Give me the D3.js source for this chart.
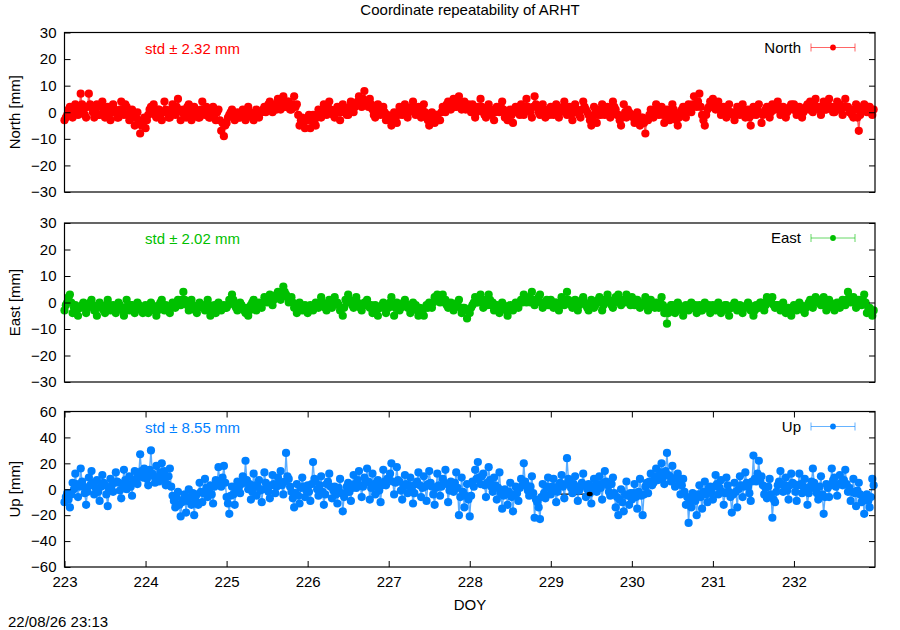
<!DOCTYPE html>
<html>
<head>
<meta charset="utf-8">
<script src="https://cdn.jsdelivr.net/npm/d3@7"></script>
<style>
  body { margin: 0; background: #fff; }
  svg text { font-family: 'Liberation Sans', Arial, sans-serif; font-size: 15px; fill: #000; }
</style>
</head>
<body>
<svg id="chart" width="900" height="630"></svg>
<script>
'use strict'

// one row per day, 60 epochs a day (24 min apart), values in mm
let firstDoy = 223
let perDay = 60
let doyTicks = [223, 224, 225, 226, 227, 228, 229, 230, 231, 232]

let north = [
  [-3, -2, -1, 1, 2, 0, -2, 1, 3, 0, -1, 2, 7, 3, 1, -1, -2, 2, 7, 3, 2, 0, -2, 1, 3, -1, -1, 2, 4, 0, -2, 1, 2, -1, -3, 0, 3, 1, 0, -2, -2, 1, 4, 0, -1, 3, 2, -1, -3, 0, 1, -2, -5, -2, 0, -3, -8, -5, -4, -2],
  [-6, -3, -1, 1, 2, 0, 3, -1, -2, 1, 1, -1, -3, 0, 4, 1, 0, -2, -2, 1, 3, 0, -1, 2, 5, 1, -3, 0, 1, -1, -2, 2, 3, 0, -3, -1, 2, 1, 0, -2, -2, 1, 4, 0, -1, 2, 1, -2, -2, 0, 2, -1, -3, 0, 1, -3, -7, -4, -9, -5],
  [-4, -2, -1, 0, 1, -1, -3, -1, 0, -2, -2, 0, 1, -1, -3, -1, 2, 0, -1, -2, -3, 0, 1, -1, -2, 0, 0, 1, 2, 0, 1, 3, 4, 2, 0, 2, 3, 1, 5, 3, 1, 4, 6, 2, 2, 4, 4, 1, 1, 3, 6, 2, 3, -1, -5, -3, -2, -4, -6, -3],
  [-3, -1, -6, -3, -1, -4, -5, -2, 1, -1, -2, 0, 3, 1, -1, 2, 4, 1, 0, -1, -2, 1, 2, 0, -3, 0, 3, 1, 1, -1, -1, 2, 4, 1, 0, 2, 3, 4, 6, 3, 2, 5, 8, 4, 4, 2, 5, 3, 1, -1, -2, 1, 3, 0, -1, 1, 2, 0, -3, -1],
  [-2, -3, -5, -2, 0, -3, -4, -1, 2, 0, -1, 1, 3, 0, -2, 0, 1, 2, 4, 1, -1, 0, 2, -1, -2, 1, 3, 0, -2, -3, -5, -2, 0, -2, -4, -1, -1, -3, -3, 0, 2, 1, 0, 3, 4, 2, 1, 3, 5, 2, 2, 4, 6, 3, 1, 2, 4, 1, 2, 3],
  [1, 0, 3, 1, -2, 0, 2, 1, 5, 2, 0, -1, -2, 1, 3, 0, -1, 1, -3, 0, 2, 1, 0, 2, 4, 1, -2, 0, -3, -1, 1, -1, -4, 0, 2, 1, 0, -1, 3, 1, -1, 2, 5, 2, 1, 0, -2, 2, 6, 3, 2, 0, -1, 1, 3, 0, -2, 0, 1, -1],
  [2, 0, -1, 1, 3, 0, -2, 0, 1, 2, 4, 1, -1, 0, 2, -1, -3, 0, 3, 1, 0, -1, -2, 1, 4, 2, 1, 0, -1, -3, -5, -2, 2, 0, -4, -1, 1, -1, 3, 1, -1, 0, 2, 1, -2, 0, 4, 2, 1, -1, -1, -3, -5, -2, 3, 0, -2, 1, 0, -1],
  [-1, -2, -4, -1, 0, -3, -5, -2, -2, -4, -8, -3, -3, -1, 1, -1, -2, 0, 3, 1, -1, 0, 2, -1, -4, -1, 1, -1, -3, 0, 3, 1, -1, -3, -5, -2, 0, 1, 2, 0, -2, 1, 3, 1, 0, 3, 6, 3, 2, 4, 7, 2, -1, -3, -5, -1, 1, 2, 4, 2],
  [5, 2, 1, 3, 4, 1, -1, 1, 2, 0, -2, 1, 3, 0, 0, -1, -3, 0, 2, 1, -1, 0, 3, 1, -2, 0, 1, -2, -5, -1, 2, 0, -1, 1, 3, 0, -4, -1, 0, 1, 2, 0, -2, 0, 3, 1, 1, 2, 4, 1, -1, 0, 2, 1, -2, 0, 1, 2, 3, 1],
  [3, 1, -1, 0, 2, 1, -2, 0, 1, 2, 3, 1, 4, 2, 0, 3, 5, 2, 2, 1, -1, 2, 4, 1, 1, 3, 5, 2, 2, 0, 0, 2, 4, 1, 3, 1, -1, 2, 5, 2, 2, 0, 1, -1, -2, 1, 3, -2, -7, -1, 1, 2, 3, 1, 0, 2, 2, 0, -1, 1]
]

let east = [
  [-3, -1, 0, 2, 3, 0, -4, -2, -1, -3, -5, -2, -2, -1, 0, -2, -4, -2, -1, 0, 1, -1, -3, -2, -5, -2, 0, -1, -2, -3, -4, -1, 1, -1, -3, -2, -1, -2, -4, -2, 0, -1, -2, -3, -5, -2, 1, -1, -3, -1, -1, -2, -4, -2, 0, -1, -2, -3, -4, -2],
  [-1, -2, -4, -2, 0, -1, -3, -2, -5, -3, -1, 0, 1, -1, -3, -1, -2, -3, -4, -2, 0, -1, -2, -1, 1, 0, -1, 1, 4, 1, 0, -1, -3, -1, 1, -1, -2, -3, -4, -2, 0, -1, -1, -2, -3, -1, 1, -1, -5, -3, -2, -1, -4, -2, 0, -1, -3, -2, -1, -2],
  [-2, -1, 1, 0, 3, 1, -1, -2, -3, -1, 0, -1, -2, -3, -4, -2, -5, -3, -1, 0, 1, -1, -3, -1, 0, -1, -2, 0, 2, 1, 0, 1, 3, 1, -1, 1, 2, 3, 4, 2, 1, 3, 6, 4, 3, 2, 0, 1, 2, 0, -2, -1, -4, -2, 0, -1, -3, -2, -1, -2],
  [-4, -2, -1, -2, -3, -1, 0, -1, -2, 0, 2, 0, -1, -2, -3, -1, 1, -1, -2, 0, 2, 0, 0, -1, -3, -2, -5, -2, 1, 0, 3, 1, 0, -1, -2, 0, 2, 0, -1, -2, -3, -1, 0, -1, 1, -1, -2, -1, -4, -2, -1, -3, -5, -2, -2, -1, 0, -2, -4, -2],
  [-2, 0, 2, -1, -5, -2, 0, -1, -3, -2, -1, 0, 1, -1, -2, -1, -4, -2, 0, -2, -1, -3, -5, -2, -3, -4, -5, -2, -1, -2, 0, -1, -2, 0, 2, 1, 3, 1, 0, 1, 3, 0, 1, -1, -2, -1, 0, -1, -3, -1, -1, 0, 1, -2, -4, -2, -2, -3, -6, -3],
  [-4, -2, -1, 0, 2, 0, 0, 1, 3, 1, -2, 0, 1, -1, 3, 1, -1, 0, -3, -1, -1, -2, -4, -2, 0, -1, -2, -3, -5, -2, -1, -2, -3, -1, 0, -1, -2, 0, 1, 0, 3, 1, 0, 1, 2, 0, 4, 1, -1, 0, 1, 2, 3, 0, -2, -1, 0, 1, -1, 0],
  [1, -1, -2, 0, 0, -1, -3, 0, 2, 0, -1, 1, 4, 1, 0, -1, -2, 0, 1, -1, -3, -1, 0, 1, 2, 0, -1, -2, -3, -1, 1, 0, -2, -1, 0, 1, 2, 0, -3, -1, 1, 0, 3, 1, 0, -1, -2, 0, 2, 1, 3, 0, -1, 1, 1, 0, 3, 1, 0, -1],
  [2, 0, -1, 1, 1, -1, -2, 0, 0, -1, 2, 0, -3, -1, 1, 0, -1, -2, 0, -1, -2, 0, 2, -1, -4, -2, -8, -4, -3, -1, -1, -2, -4, -2, 0, -1, -2, -3, -5, -2, -1, -2, -3, -1, 0, -2, -2, -1, -4, -2, -1, -3, -3, -1, 0, -2, -2, -1, -4, -2],
  [-1, -2, -3, -1, 0, -2, -4, -2, -2, -1, -1, -3, -5, -2, -2, -1, 0, -1, -3, -2, -1, -2, -4, -2, -2, -1, 0, -1, -3, -2, -5, -3, -1, -2, -2, 0, 0, -1, -3, -1, 2, 0, 0, 1, 2, -1, -2, -1, -1, -2, -3, -1, 0, -2, -4, -2, -2, -3, -5, -2],
  [-1, -2, -3, -1, 0, -1, -2, -3, -4, -2, -1, 0, 1, -1, -2, 0, 2, 0, 0, 1, -1, 0, 2, -1, -3, -1, 1, 0, -1, -2, -3, -1, 0, -1, -2, 0, 1, 0, -1, 1, 4, 2, 0, 1, 2, 0, -2, -1, 1, 0, -1, 1, 3, 0, -4, -2, -2, -3, -5, -3]
]

let up = [
  [-10, -6, -3, -8, -14, -4, 5, 0, 12, 4, -6, 2, 16, 6, 2, -3, -12, -2, 9, 3, 14, 5, -4, 1, 7, -2, -9, 2, 11, 5, 3, -4, -13, -1, 8, 3, -2, 5, 13, 6, 5, -1, -7, 4, 15, 7, 0, 4, 10, 2, -5, 6, 14, 8, 4, 12, 27, 14, 9, 16],
  [12, 8, 3, 15, 30, 12, 10, 5, 18, 9, 6, 13, 20, 8, 14, 3, 4, 10, 16, 2, -5, -9, -14, -6, -2, -12, -21, -10, -8, -4, -18, -9, 0, -6, -12, -3, -20, -9, -4, -12, 5, -2, -10, -3, 8, 1, -6, -1, 3, -4, -11, 2, 7, 4, 17, 6, 2, 9, 18, 5],
  [-6, -11, -19, -5, 2, -4, -12, -2, 6, 1, -3, 4, 10, 5, 22, 7, 0, 4, -8, -2, 12, 3, -5, 2, 7, -1, -10, 0, 13, 5, 2, -2, -7, 3, 11, 4, -3, 2, 9, 5, 14, 3, -4, 6, 28, 10, 8, 2, -2, -7, -14, -3, 4, -5, -11, 1, 9, 2, -6, -1],
  [3, -2, -9, 4, 21, 8, 6, 0, -5, 3, 10, -2, -12, -4, 4, 6, 12, 2, -7, -1, 2, -4, -11, 1, 8, -3, -17, -6, -3, 2, 5, -2, -9, 1, 11, 4, 1, 7, 14, 3, -6, 2, 9, 5, 16, 6, -8, 1, 12, 4, -4, 2, 7, -1, -10, 3, 15, 6, 3, 8],
  [8, 12, 20, 6, -4, 5, 17, 7, 6, -1, -8, 2, 11, 4, -3, 3, 9, 0, -11, -3, 4, 6, 13, 3, -6, 1, 10, 2, -9, 4, 14, 5, 2, -4, -12, 1, 12, 3, -5, 2, 8, 5, 15, 4, -10, -1, 6, 2, -2, 5, 13, 1, -20, -6, 9, -2, -14, -5, 4, -8],
  [-21, -5, 6, 2, 15, 8, 21, 9, 4, 10, 12, 3, -6, 5, 17, 7, 2, -2, 9, 3, -8, 1, 13, -3, -15, -5, 0, -4, -12, -2, 5, -6, -17, -4, 2, -3, -9, 1, 8, 3, 20, 6, 3, -1, -5, 2, 10, -3, -22, -8, -10, -14, -23, -6, 4, -3, -7, 2, 9, 1],
  [-4, 2, 8, -1, -10, -2, 3, 5, 11, 2, -7, 4, 24, 8, 6, 1, -3, 4, 10, 2, -9, -1, 2, 5, 12, 3, -6, 0, 4, -3, -11, 1, 8, 3, -2, 4, 10, 1, -8, 5, 14, 6, 3, -2, -5, 4, 9, -3, -14, -6, -20, -8, 0, -10, -17, -4, 6, -5, -12, -3],
  [-8, -3, 4, -6, -15, -2, 8, -5, -20, -4, 2, 5, -3, 6, 12, 3, 5, 10, 16, 7, 8, 13, 20, 9, 4, 14, 28, 11, 10, 6, 18, 8, 2, 9, 12, 4, -4, 3, 8, -2, -12, -6, -26, -10, -14, -3, -5, -9, -20, -4, 3, -6, -15, -2, 6, -4, -10, 1, 2, -3],
  [-8, 2, 11, 4, -4, 1, 7, -2, -12, -3, 9, 3, -2, -6, -18, -4, 5, -2, -14, 0, 10, 3, -6, 2, 13, 5, 2, -3, -9, 6, 26, 8, 6, 12, 22, 7, 10, 3, -4, 1, -7, 2, 8, -4, -22, -8, -10, -2, 3, 6, 14, 4, -2, 3, 9, -1, -8, 3, 12, 5],
  [4, -2, -9, 3, 12, 4, -3, 2, 8, -1, -12, -3, 2, 6, 16, 5, 0, -3, -8, 2, 10, -4, -19, -6, 4, 1, -6, 3, 16, 7, 9, 2, -5, 4, 11, 5, 3, 7, 15, 4, -2, 1, -9, -2, 8, -3, -13, -1, 5, -4, -10, -7, -19, -8, -4, -9, -14, -6, 8, 3]
]

// the short black trace that shows through in the Up panel [doy, mm]
let upBlack = [[229.05, -3.7], [229.48, -3.7]]

let stds = [2.32, 2.02, 8.55]
let names = ['North', 'East', 'Up']
let northTicks = [-30, -20, -10, 0, 10, 20, 30]
let eastTicks = [-30, -20, -10, 0, 10, 20, 30]
let upTicks = [-60, -40, -20, 0, 20, 40, 60]

let config = {
  left: 64.5,
  right: 875,
  rad: 4.1,
  tick: 6
}

let panels = [
  {data: north, ticks: northTicks, top: 32.5, bottom: 192, color: '#ff0000'},
  {data: east, ticks: eastTicks, top: 223, bottom: 382, color: '#00c000'},
  {data: up, ticks: upTicks, top: 411.5, bottom: 567, color: '#0080ff', xaxis: true, black: upBlack}
]

let svg = d3.select('#chart')
let x = d3.scaleLinear().domain([223, 233]).range([config.left, config.right])

function samples (rows) {
  return rows.flatMap((row, d) => row.map((v, i) => ({t: firstDoy + d + i / perDay, v: v})))
}

function styleAxis (size) {
  return g => {
    g.select('.domain').remove()
    g.selectAll('line').attr('stroke', '#000')
    g.selectAll('text').attr('font-size', size).attr('font-family', 'Liberation Sans, Arial, sans-serif').attr('fill', '#000')
  }
}

function makePanel (p, k) {
  let {left, right, rad, tick} = config
  let ticks = p.ticks
  let y = d3.scaleLinear().domain([ticks[0], ticks[ticks.length - 1]]).range([p.bottom, p.top])
  let g = svg.append('g').attr('class', 'panel ' + names[k])
  let pts = samples(p.data)

  if (p.black) {
    g.append('path').datum(p.black)
      .attr('d', d3.line().x(d => x(d[0])).y(d => y(d[1])))
      .attr('fill', 'none').attr('stroke', '#000').attr('stroke-width', 1.2)
  }

  g.append('path').datum(pts)
    .attr('d', d3.line().x(d => x(d.t)).y(d => y(d.v)))
    .attr('fill', 'none')
    .attr('stroke', p.color)
    .attr('stroke-opacity', 0.65)
    .attr('stroke-width', 1.4)

  g.append('g').selectAll('circle').data(pts)
    .join('circle')
    .attr('cx', d => x(d.t))
    .attr('cy', d => y(d.v))
    .attr('r', rad)
    .attr('fill', p.color)

  if (p.black) {
    let last = p.black[p.black.length - 1]
    g.append('ellipse')
      .attr('cx', x(last[0])).attr('cy', y(last[1]))
      .attr('rx', 3).attr('ry', 2.2).attr('fill', '#000')
  }

  // frame
  g.append('rect')
    .attr('x', left).attr('y', p.top)
    .attr('width', right - left).attr('height', p.bottom - p.top)
    .attr('fill', 'none').attr('stroke', '#000').attr('stroke-width', 1.2)

  g.append('g')
    .attr('transform', `translate(${left},0)`)
    .call(d3.axisLeft(y).tickValues(ticks).tickSize(-tick).tickPadding(8).tickFormat(d3.format('d')))
    .call(styleAxis(14))
  g.append('g')
    .attr('transform', `translate(${right},0)`)
    .call(d3.axisRight(y).tickValues(ticks).tickSize(-tick).tickFormat(''))
    .call(styleAxis(14))

  if (p.xaxis) {
    g.append('g')
      .attr('transform', `translate(0,${p.bottom})`)
      .call(d3.axisBottom(x).tickValues(doyTicks).tickSize(-tick).tickPadding(9).tickFormat(d3.format('d')))
      .call(styleAxis(15))
    g.append('g')
      .attr('transform', `translate(0,${p.top})`)
      .call(d3.axisTop(x).tickValues(doyTicks).tickSize(-tick).tickFormat(''))
      .call(styleAxis(15))
  }

  // axis name
  g.append('text')
    .attr('transform', `translate(15,${(p.top + p.bottom) / 2}) rotate(-90)`)
    .attr('text-anchor', 'middle')
    .attr('dy', '0.35em')
    .text(names[k] + ' [mm]')

  g.append('text')
    .attr('x', 145).attr('y', p.top + 21)
    .style('fill', p.color)
    .text('std \u00b1 ' + stds[k].toFixed(2) + ' mm')

  // key
  let ky = p.top + 15
  let key = g.append('g').attr('class', 'key')
  key.append('text')
    .attr('x', 801).attr('y', ky).attr('dy', '0.35em')
    .attr('text-anchor', 'end')
    .text(names[k])
  key.append('path')
    .attr('d', `M811,${ky}H855M811,${ky - 4}V${ky + 4}M855,${ky - 4}V${ky + 4}`)
    .attr('stroke', p.color).attr('stroke-opacity', 0.6).attr('fill', 'none')
  key.append('circle')
    .attr('cx', 833).attr('cy', ky).attr('r', 2.9).attr('fill', p.color)
}

panels.forEach(makePanel)

svg.append('text')
  .attr('x', 470).attr('y', 15)
  .attr('text-anchor', 'middle')
  .text('Coordinate repeatability of ARHT')

svg.append('text')
  .attr('x', 470).attr('y', 610)
  .attr('text-anchor', 'middle')
  .text('DOY')

svg.append('text')
  .attr('x', 8).attr('y', 627)
  .text('22/08/26 23:13')
</script>
</body>
</html>
